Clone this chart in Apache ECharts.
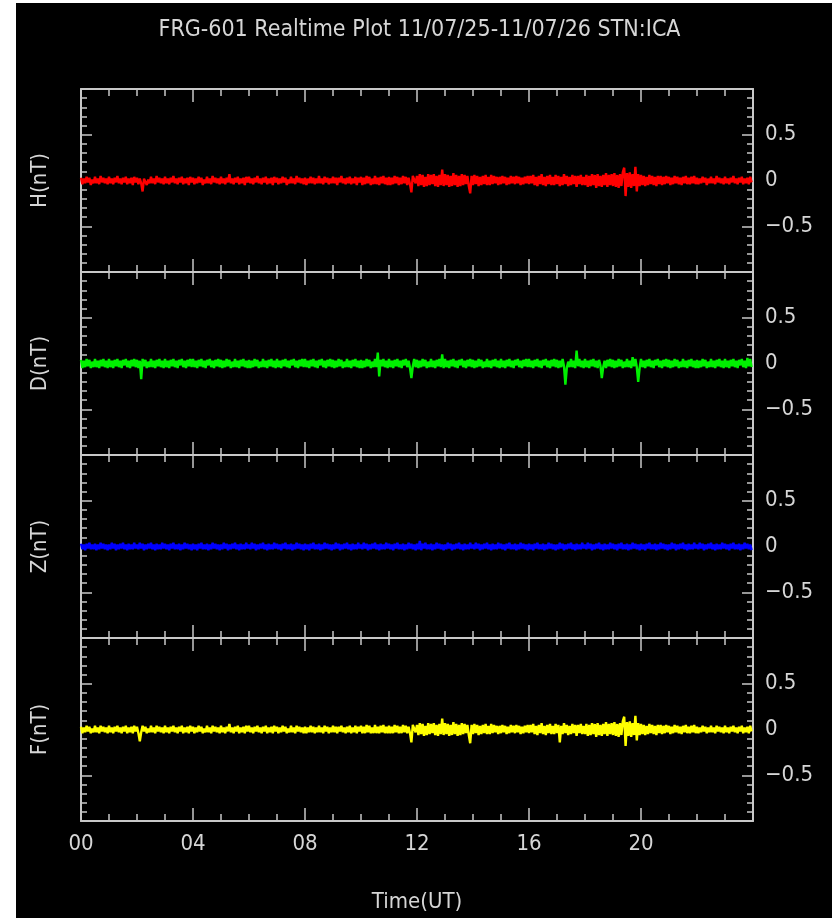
<!DOCTYPE html>
<html>
<head>
<meta charset="utf-8">
<script src="https://cdn.jsdelivr.net/npm/echarts@6/dist/echarts.min.js"></script>
<style>
  html, body { margin: 0; padding: 0; background: #fff; }
  #chart { width: 839px; height: 918px; }
</style>
</head>
<body>
<div id="chart"></div>
<script>
// FRG-601 magnetometer, 4 components in nT, one value every 3 minutes (00 -> 24 UT)
var panelNames = ["H(nT)", "D(nT)", "Z(nT)", "F(nT)"];
var panelColors = ["#ff0000", "#00f000", "#0000ff", "#ffff00"];
var hourTicks = [0, 4, 8, 12, 16, 20];
var stepHours = 0.05;

var hValues = [
  0.03,-0.04,0.02,-0.03,0.04,-0.02,0.03,-0.05,0.01,-0.03,0.04,-0.03,0.02,-0.04,0.05,-0.02,0.03,-0.03,0.02,-0.04,
  0.04,-0.03,0.02,-0.04,0.03,-0.02,0.05,-0.03,0.02,-0.04,0.03,-0.02,0.04,-0.04,0.02,-0.03,0.03,-0.05,0.04,-0.02,
  0.03,-0.04,0.02,-0.03,-0.12,0.02,0.03,-0.05,0.01,-0.03,0.04,-0.03,0.02,-0.04,0.05,-0.02,0.03,-0.03,0.02,-0.04,
  0.04,-0.03,0.02,-0.04,0.03,-0.02,0.05,-0.03,0.02,-0.04,0.03,-0.02,0.04,-0.04,0.02,-0.03,0.03,-0.05,0.04,-0.02,
  0.03,-0.04,0.02,-0.03,0.04,-0.02,0.03,-0.05,0.01,-0.03,0.04,-0.03,0.02,-0.04,0.05,-0.02,0.03,-0.03,0.02,-0.04,
  0.04,-0.03,0.02,-0.04,0.03,-0.02,0.07,-0.03,0.02,-0.04,0.03,-0.02,0.04,-0.04,0.02,-0.03,0.03,-0.05,0.04,-0.02,
  0.04,-0.03,0.02,-0.04,0.03,-0.02,0.05,-0.03,0.02,-0.04,0.03,-0.02,0.04,-0.04,0.02,-0.03,0.03,-0.05,0.04,-0.02,
  0.03,-0.04,0.02,-0.03,0.04,-0.02,0.03,-0.05,0.01,-0.03,0.04,-0.03,0.02,-0.04,0.05,-0.02,0.03,-0.03,0.02,-0.04,
  0.03,-0.05,0.02,-0.03,0.04,-0.03,0.03,-0.04,0.02,-0.03,0.05,-0.03,0.02,-0.04,0.04,-0.02,0.03,-0.04,0.02,-0.03,
  0.04,-0.03,0.03,-0.05,0.03,-0.02,0.05,-0.03,0.02,-0.04,0.03,-0.03,0.04,-0.04,0.02,-0.03,0.04,-0.05,0.03,-0.02,
  0.04,-0.05,0.03,-0.04,0.05,-0.03,0.04,-0.05,0.02,-0.04,0.05,-0.04,0.03,-0.05,0.04,-0.03,0.05,-0.04,0.03,-0.05,
  0.04,-0.05,0.03,-0.04,0.05,-0.03,0.04,-0.05,0.03,-0.04,0.05,-0.03,0.04,-0.05,0.03,-0.04,-0.13,0.05,0.04,-0.03,
  0.05,-0.06,0.07,-0.05,0.06,-0.07,0.04,-0.06,0.07,-0.05,0.06,-0.04,0.07,-0.06,0.05,-0.07,0.06,-0.05,0.12,-0.06,
  0.07,-0.05,0.06,-0.07,0.05,-0.06,0.08,-0.05,0.06,-0.07,0.05,-0.06,0.07,-0.05,0.06,-0.04,0.05,-0.06,-0.14,0.05,
  -0.05,0.06,-0.04,0.05,-0.06,0.04,-0.05,0.05,-0.04,0.06,-0.05,0.04,-0.05,0.06,-0.04,0.05,-0.03,0.04,-0.05,0.04,
  -0.04,0.05,-0.03,0.04,-0.05,0.03,-0.04,0.05,-0.03,0.04,-0.04,0.05,-0.03,0.04,-0.05,0.03,-0.04,0.04,-0.03,0.05,
  -0.04,0.05,-0.03,0.06,-0.05,0.04,-0.06,0.05,-0.04,0.07,-0.05,0.04,-0.06,0.05,-0.04,0.06,-0.05,0.04,-0.05,0.06,
  -0.04,0.05,-0.06,0.04,-0.05,0.07,-0.04,0.05,-0.06,0.04,-0.05,0.06,-0.04,0.05,-0.07,0.05,-0.04,0.06,-0.05,0.04,
  -0.05,0.06,-0.07,0.05,-0.06,0.07,-0.05,0.06,-0.08,0.07,-0.06,0.05,-0.07,0.06,-0.05,0.08,-0.07,0.06,-0.05,0.07,
  -0.06,0.08,-0.07,0.06,-0.08,0.07,-0.06,0.09,0.14,-0.17,0.08,-0.07,0.09,-0.08,0.07,-0.06,0.15,-0.12,0.07,-0.06,
  0.06,-0.05,0.05,-0.06,0.04,-0.05,0.06,-0.04,0.05,-0.05,0.04,-0.06,0.05,-0.04,0.05,-0.05,0.04,-0.04,0.05,-0.03,
  0.04,-0.05,0.03,-0.04,0.05,-0.03,0.04,-0.04,0.03,-0.05,0.04,-0.03,0.05,-0.04,0.03,-0.04,0.04,-0.03,0.05,-0.04,
  0.03,-0.04,0.02,-0.03,0.04,-0.02,0.03,-0.05,0.02,-0.03,0.04,-0.03,0.02,-0.04,0.05,-0.02,0.03,-0.03,0.02,-0.04,
  0.04,-0.03,0.02,-0.04,0.03,-0.02,0.05,-0.03,0.02,-0.04,0.03,-0.02,0.04,-0.04,0.02,-0.03,0.03,-0.04,0.04,-0.02
];

var dValues = [
  0.04,-0.05,0.03,-0.04,0.05,-0.03,0.04,-0.05,0.02,-0.04,0.05,-0.04,0.03,-0.05,0.04,-0.03,0.05,-0.04,0.03,-0.05,
  0.05,-0.04,0.03,-0.05,0.04,-0.03,0.05,-0.04,0.03,-0.05,0.04,-0.02,0.05,-0.04,0.03,-0.05,0.04,-0.03,0.05,-0.04,
  0.04,-0.05,0.03,-0.17,0.05,-0.03,0.04,-0.05,0.02,-0.04,0.05,-0.04,0.03,-0.05,0.04,-0.03,0.05,-0.04,0.03,-0.05,
  0.05,-0.04,0.03,-0.05,0.04,-0.03,0.05,-0.04,0.03,-0.05,0.04,-0.02,0.05,-0.04,0.03,-0.05,0.04,-0.03,0.05,-0.04,
  0.05,-0.04,0.03,-0.05,0.04,-0.03,0.05,-0.04,0.03,-0.05,0.04,-0.02,0.05,-0.04,0.03,-0.05,0.04,-0.03,0.05,-0.04,
  0.04,-0.05,0.03,-0.04,0.05,-0.03,0.04,-0.05,0.02,-0.04,0.05,-0.04,0.03,-0.05,0.04,-0.03,0.05,-0.04,0.03,-0.05,
  0.04,-0.05,0.03,-0.04,0.05,-0.03,0.04,-0.05,0.02,-0.04,0.05,-0.04,0.03,-0.05,0.04,-0.03,0.05,-0.04,0.03,-0.05,
  0.05,-0.04,0.03,-0.05,0.04,-0.03,0.05,-0.04,0.03,-0.05,0.04,-0.02,0.05,-0.04,0.03,-0.05,0.04,-0.03,0.05,-0.04,
  0.05,-0.04,0.03,-0.05,0.04,-0.03,0.05,-0.04,0.03,-0.05,0.04,-0.02,0.05,-0.04,0.03,-0.05,0.04,-0.03,0.05,-0.04,
  0.04,-0.05,0.03,-0.04,0.05,-0.03,0.04,-0.05,0.02,-0.04,0.05,-0.04,0.03,-0.05,0.04,-0.03,0.05,-0.04,0.03,-0.05,
  0.04,-0.05,0.03,-0.04,0.05,-0.03,0.04,-0.05,0.02,-0.04,0.05,-0.04,0.12,-0.14,0.04,-0.03,0.05,-0.04,0.03,-0.05,
  0.05,-0.04,0.03,-0.05,0.04,-0.03,0.05,-0.04,0.03,-0.05,0.04,-0.02,0.05,-0.04,0.03,-0.05,-0.16,-0.03,0.05,-0.04,
  0.04,-0.05,0.03,-0.04,0.05,-0.03,0.04,-0.05,0.02,-0.04,0.05,-0.04,0.03,-0.05,0.04,-0.03,0.05,-0.04,0.10,-0.05,
  0.05,-0.04,0.03,-0.05,0.04,-0.03,0.05,-0.04,0.03,-0.05,0.04,-0.02,0.05,-0.04,0.03,-0.05,0.04,-0.03,0.05,-0.04,
  0.04,-0.05,0.03,-0.04,0.05,-0.03,0.04,-0.05,0.02,-0.04,0.05,-0.04,0.03,-0.05,0.04,-0.03,0.05,-0.04,0.03,-0.05,
  0.05,-0.04,0.03,-0.05,0.04,-0.03,0.05,-0.04,0.03,-0.05,0.04,-0.02,0.05,-0.04,0.03,-0.05,0.04,-0.03,0.05,-0.04,
  0.05,-0.04,0.03,-0.05,0.04,-0.03,0.05,-0.04,0.03,-0.05,0.04,-0.02,0.05,-0.04,0.03,-0.05,0.04,-0.03,0.05,-0.04,
  0.04,-0.05,0.03,-0.04,0.05,-0.03,-0.23,-0.05,0.02,-0.04,0.05,-0.04,0.03,-0.05,0.14,-0.03,0.05,-0.04,0.03,-0.05,
  0.05,-0.04,0.03,-0.05,0.04,-0.03,0.05,-0.04,0.03,-0.05,0.04,-0.02,-0.16,-0.04,0.03,-0.05,0.04,-0.03,0.05,-0.04,
  0.04,-0.05,0.03,-0.04,0.05,-0.03,0.04,-0.05,0.02,-0.04,0.05,-0.04,0.03,-0.05,0.07,-0.03,0.05,-0.04,-0.20,-0.05,
  0.05,-0.04,0.03,-0.05,0.04,-0.03,0.05,-0.04,0.03,-0.05,0.04,-0.02,0.05,-0.04,0.03,-0.05,0.04,-0.03,0.05,-0.04,
  0.04,-0.05,0.03,-0.04,0.05,-0.03,0.04,-0.05,0.02,-0.04,0.05,-0.04,0.03,-0.05,0.04,-0.03,0.05,-0.04,0.03,-0.05,
  0.04,-0.05,0.03,-0.04,0.05,-0.03,0.04,-0.05,0.02,-0.04,0.05,-0.04,0.03,-0.05,0.04,-0.03,0.05,-0.04,0.03,-0.05,
  0.05,-0.04,0.03,-0.05,0.04,-0.03,0.05,-0.04,0.03,-0.05,0.04,-0.02,0.05,-0.04,0.03,-0.05,0.06,-0.03,0.05,-0.04
];

var zValues = [
  0.03,-0.03,0.02,-0.04,0.03,-0.02,0.04,-0.03,0.02,-0.03,0.03,-0.04,0.02,-0.03,0.04,-0.02,0.03,-0.03,0.02,-0.04,
  0.02,-0.03,0.04,-0.02,0.03,-0.04,0.02,-0.03,0.03,-0.02,0.04,-0.03,0.02,-0.04,0.03,-0.03,0.02,-0.03,0.04,-0.02,
  0.02,-0.03,0.04,-0.02,0.03,-0.04,0.02,-0.03,0.03,-0.02,0.04,-0.03,0.02,-0.04,0.03,-0.03,0.02,-0.03,0.04,-0.02,
  0.03,-0.03,0.02,-0.04,0.03,-0.02,0.04,-0.03,0.02,-0.03,0.03,-0.04,0.02,-0.03,0.04,-0.02,0.03,-0.03,0.02,-0.04,
  0.03,-0.03,0.02,-0.04,0.03,-0.02,0.04,-0.03,0.02,-0.03,0.03,-0.04,0.02,-0.03,0.04,-0.02,0.03,-0.03,0.02,-0.04,
  0.02,-0.03,0.04,-0.02,0.03,-0.04,0.02,-0.03,0.03,-0.02,0.04,-0.03,0.02,-0.04,0.03,-0.03,0.02,-0.03,0.04,-0.02,
  0.02,-0.03,0.04,-0.02,0.03,-0.04,0.02,-0.03,0.03,-0.02,0.04,-0.03,0.02,-0.04,0.03,-0.03,0.02,-0.03,0.04,-0.02,
  0.03,-0.03,0.02,-0.04,0.03,-0.02,0.04,-0.03,0.02,-0.03,0.03,-0.04,0.02,-0.03,0.04,-0.02,0.03,-0.03,0.02,-0.04,
  0.03,-0.03,0.02,-0.04,0.03,-0.02,0.04,-0.03,0.02,-0.03,0.03,-0.04,0.02,-0.03,0.04,-0.02,0.03,-0.03,0.02,-0.04,
  0.02,-0.03,0.04,-0.02,0.03,-0.04,0.02,-0.03,0.03,-0.02,0.04,-0.03,0.02,-0.04,0.03,-0.03,0.02,-0.03,0.04,-0.02,
  0.02,-0.03,0.04,-0.02,0.03,-0.04,0.02,-0.03,0.03,-0.02,0.04,-0.03,0.02,-0.04,0.03,-0.03,0.02,-0.03,0.04,-0.02,
  0.03,-0.03,0.02,-0.04,0.03,-0.02,0.04,-0.03,0.02,-0.03,0.03,-0.04,0.02,-0.03,0.04,-0.02,0.03,-0.03,0.02,-0.04,
  0.03,-0.03,0.06,-0.04,0.03,-0.02,0.04,-0.03,0.02,-0.03,0.03,-0.04,0.02,-0.03,0.04,-0.02,0.03,-0.03,0.02,-0.04,
  0.02,-0.03,0.04,-0.02,0.03,-0.04,0.02,-0.03,0.03,-0.02,0.04,-0.03,0.02,-0.04,0.03,-0.03,0.02,-0.03,0.04,-0.02,
  0.02,-0.03,0.04,-0.02,0.03,-0.04,0.02,-0.03,0.03,-0.02,0.04,-0.03,0.02,-0.04,0.03,-0.03,0.02,-0.03,0.04,-0.02,
  0.03,-0.03,0.02,-0.04,0.03,-0.02,0.04,-0.03,0.02,-0.03,0.03,-0.04,0.02,-0.03,0.04,-0.02,0.03,-0.03,0.02,-0.04,
  0.03,-0.03,0.02,-0.04,0.03,-0.02,0.04,-0.03,0.02,-0.03,0.03,-0.04,0.02,-0.03,0.04,-0.02,0.03,-0.03,0.02,-0.04,
  0.02,-0.03,0.04,-0.02,0.03,-0.04,0.02,-0.03,0.03,-0.02,0.04,-0.03,0.02,-0.04,0.03,-0.03,0.02,-0.03,0.04,-0.02,
  0.02,-0.03,0.04,-0.02,0.03,-0.04,0.02,-0.03,0.03,-0.02,0.04,-0.03,0.02,-0.04,0.03,-0.03,0.02,-0.03,0.04,-0.02,
  0.03,-0.03,0.02,-0.04,0.03,-0.02,0.04,-0.03,0.02,-0.03,0.03,-0.04,0.02,-0.03,0.04,-0.02,0.03,-0.03,0.02,-0.04,
  0.03,-0.03,0.02,-0.04,0.03,-0.02,0.04,-0.03,0.02,-0.03,0.03,-0.04,0.02,-0.03,0.04,-0.02,0.03,-0.03,0.02,-0.04,
  0.02,-0.03,0.04,-0.02,0.03,-0.04,0.02,-0.03,0.03,-0.02,0.04,-0.03,0.02,-0.04,0.03,-0.03,0.02,-0.03,0.04,-0.02,
  0.02,-0.03,0.04,-0.02,0.03,-0.04,0.02,-0.03,0.03,-0.02,0.04,-0.03,0.02,-0.04,0.03,-0.03,0.02,-0.03,0.04,-0.02,
  0.03,-0.03,0.02,-0.04,0.03,-0.02,0.04,-0.03,0.02,-0.03,0.03,-0.04,0.02,-0.03,0.04,-0.02,0.03,-0.03,0.02,-0.04
];

var fValues = [
  0.03,-0.04,0.02,-0.03,0.04,-0.02,0.03,-0.04,0.01,-0.03,0.04,-0.03,0.02,-0.04,0.04,-0.02,0.03,-0.03,0.02,-0.04,
  0.04,-0.03,0.02,-0.04,0.03,-0.02,0.04,-0.03,0.02,-0.04,0.03,-0.02,0.04,-0.04,0.02,-0.03,0.03,-0.04,0.04,-0.02,
  0.03,-0.04,-0.13,-0.03,0.04,-0.02,0.03,-0.04,0.01,-0.03,0.04,-0.03,0.02,-0.04,0.04,-0.02,0.03,-0.03,0.02,-0.04,
  0.04,-0.03,0.02,-0.04,0.03,-0.02,0.04,-0.03,0.02,-0.04,0.03,-0.02,0.04,-0.04,0.02,-0.03,0.03,-0.04,0.04,-0.02,
  0.03,-0.04,0.02,-0.03,0.04,-0.02,0.03,-0.04,0.01,-0.03,0.04,-0.03,0.02,-0.04,0.04,-0.02,0.03,-0.03,0.02,-0.04,
  0.04,-0.03,0.02,-0.04,0.03,-0.02,0.06,-0.03,0.02,-0.04,0.03,-0.02,0.04,-0.04,0.02,-0.03,0.03,-0.04,0.04,-0.02,
  0.04,-0.03,0.02,-0.04,0.03,-0.02,0.04,-0.03,0.02,-0.04,0.03,-0.02,0.04,-0.04,0.02,-0.03,0.03,-0.04,0.04,-0.02,
  0.03,-0.04,0.02,-0.03,0.04,-0.02,0.03,-0.04,0.01,-0.03,0.04,-0.03,0.02,-0.04,0.04,-0.02,0.03,-0.03,0.02,-0.04,
  0.03,-0.04,0.02,-0.03,0.04,-0.03,0.03,-0.04,0.02,-0.03,0.04,-0.03,0.02,-0.04,0.04,-0.02,0.03,-0.04,0.02,-0.03,
  0.04,-0.03,0.03,-0.04,0.03,-0.02,0.04,-0.03,0.02,-0.04,0.03,-0.03,0.04,-0.04,0.02,-0.03,0.04,-0.04,0.03,-0.02,
  0.04,-0.04,0.03,-0.04,0.05,-0.03,0.04,-0.04,0.02,-0.04,0.05,-0.04,0.03,-0.04,0.04,-0.03,0.05,-0.04,0.03,-0.04,
  0.04,-0.04,0.03,-0.04,0.05,-0.03,0.04,-0.04,0.03,-0.04,0.05,-0.03,0.04,-0.04,0.03,-0.04,-0.14,0.05,0.04,-0.03,
  0.05,-0.06,0.07,-0.05,0.06,-0.07,0.04,-0.06,0.07,-0.05,0.06,-0.04,0.07,-0.06,0.05,-0.07,0.06,-0.05,0.12,-0.06,
  0.07,-0.05,0.06,-0.07,0.05,-0.06,0.08,-0.05,0.06,-0.07,0.05,-0.06,0.07,-0.05,0.06,-0.04,0.05,-0.06,-0.15,0.05,
  -0.05,0.06,-0.04,0.05,-0.06,0.04,-0.05,0.05,-0.04,0.06,-0.05,0.04,-0.05,0.06,-0.04,0.05,-0.03,0.04,-0.05,0.04,
  -0.04,0.05,-0.03,0.04,-0.05,0.03,-0.04,0.05,-0.03,0.04,-0.04,0.05,-0.03,0.04,-0.05,0.03,-0.04,0.04,-0.03,0.05,
  -0.04,0.05,-0.03,0.06,-0.05,0.04,-0.06,0.05,-0.04,0.07,-0.05,0.04,-0.06,0.05,-0.04,0.06,-0.05,0.04,-0.05,0.06,
  -0.04,0.05,-0.14,0.04,-0.05,0.07,-0.04,0.05,-0.06,0.04,-0.05,0.06,-0.04,0.05,-0.07,0.05,-0.04,0.06,-0.05,0.04,
  -0.05,0.06,-0.07,0.05,-0.06,0.07,-0.05,0.06,-0.08,0.07,-0.06,0.05,-0.07,0.06,-0.05,0.08,-0.07,0.06,-0.05,0.07,
  -0.06,0.08,-0.07,0.06,-0.08,0.07,-0.06,0.09,0.14,-0.18,0.08,-0.07,0.09,-0.08,0.07,-0.06,0.15,-0.12,0.07,-0.06,
  0.06,-0.05,0.05,-0.06,0.04,-0.05,0.06,-0.04,0.05,-0.05,0.04,-0.06,0.05,-0.04,0.05,-0.05,0.04,-0.04,0.05,-0.03,
  0.04,-0.05,0.03,-0.04,0.05,-0.03,0.04,-0.04,0.03,-0.05,0.04,-0.03,0.05,-0.04,0.03,-0.04,0.04,-0.03,0.05,-0.04,
  0.03,-0.04,0.02,-0.03,0.04,-0.02,0.03,-0.04,0.02,-0.03,0.04,-0.03,0.02,-0.04,0.04,-0.02,0.03,-0.03,0.02,-0.04,
  0.04,-0.03,0.02,-0.04,0.03,-0.02,0.04,-0.03,0.02,-0.04,0.03,-0.02,0.04,-0.04,0.02,-0.03,0.03,-0.04,0.04,-0.02
];

var allValues = [hValues, dValues, zValues, fValues];

var axisColor = "#c8c8c8";
var textColor = "#d6d6d6";
var fontName = "'Liberation Sans Narrow', 'DejaVu Sans Condensed', sans-serif";

var panelTop = 89, panelHeight = 183;

var myChart = echarts.init(document.getElementById("chart"));

var grids = [], xAxes = [], yAxes = [], seriesList = [];

allValues.forEach(function (values, k) {
  grids.push({
    left: 81,
    right: 86,
    top: panelTop + k * panelHeight,
    height: panelHeight,
    containLabel: false
  });

  var isLast = k === allValues.length - 1;
  // bottom and top time axes, ticks pointing inward
  ["bottom", "top"].forEach(function (pos) {
    var showLab = isLast && pos === "bottom";
    xAxes.push({
      gridIndex: k,
      type: "value",
      position: pos,
      min: 0,
      max: 24,
      interval: 4,
      name: showLab ? "Time(UT)" : "",
      nameLocation: "middle",
      nameGap: 70,
      nameTextStyle: { color: textColor, fontSize: 22, fontFamily: fontName },
      axisLine: { show: true, onZero: false, lineStyle: { color: axisColor, width: 2 } },
      axisTick: { show: true, inside: true, length: 13, lineStyle: { color: axisColor, width: 1.5 } },
      minorTick: { show: true, splitNumber: 4, length: 7, lineStyle: { color: axisColor, width: 1.5 } },
      splitLine: { show: false },
      axisLabel: {
        show: showLab,
        margin: 12,
        color: textColor,
        fontSize: 22,
        fontFamily: fontName,
        formatter: function (v) {
          return hourTicks.indexOf(v) >= 0 ? (v < 10 ? "0" + v : "" + v) : "";
        }
      }
    });
  });

  // left axis carries the name, right axis the labels
  ["left", "right"].forEach(function (pos) {
    yAxes.push({
      gridIndex: k,
      type: "value",
      position: pos,
      min: -1,
      max: 1,
      interval: 0.5,
      name: pos === "left" ? panelNames[k] : "",
      nameLocation: "middle",
      nameGap: 30,
      nameRotate: 90,
      nameTextStyle: { color: textColor, fontSize: 22, fontFamily: fontName },
      axisLine: { show: true, onZero: false, lineStyle: { color: axisColor, width: 2 } },
      axisTick: { show: true, inside: true, length: 11, lineStyle: { color: axisColor, width: 1.5 } },
      minorTick: { show: true, splitNumber: 5, length: 6, lineStyle: { color: axisColor, width: 1.5 } },
      splitLine: { show: false },
      axisLabel: {
        show: pos === "right",
        margin: 12,
        color: textColor,
        fontSize: 22,
        fontFamily: fontName,
        formatter: function (v) {
          if (Math.abs(v) > 0.9) return "";
          return ("" + v).replace("-", "\u2212");
        }
      }
    });
  });

  seriesList.push({
    type: "line",
    xAxisIndex: 2 * k,
    yAxisIndex: 2 * k,
    showSymbol: false,
    symbol: "none",
    clip: true,
    lineStyle: { color: panelColors[k], width: 2.4 },
    data: values.map(function (v, i) {
      return [i * stepHours, v];
    })
  });
});

var option = {
  animation: false,
  backgroundColor: "transparent",
  title: {
    text: "FRG-601 Realtime Plot 11/07/25-11/07/26 STN:ICA",
    left: "center",
    top: 14,
    textStyle: { color: textColor, fontSize: 23, fontWeight: "normal", fontFamily: fontName }
  },
  graphic: [
    {
      type: "rect",
      z: -10,
      silent: true,
      shape: { x: 16, y: 3, width: 816, height: 915 },
      style: { fill: "#000" }
    }
  ],
  grid: grids,
  xAxis: xAxes,
  yAxis: yAxes,
  series: seriesList
};

myChart.setOption(option);
</script>
</body>
</html>
